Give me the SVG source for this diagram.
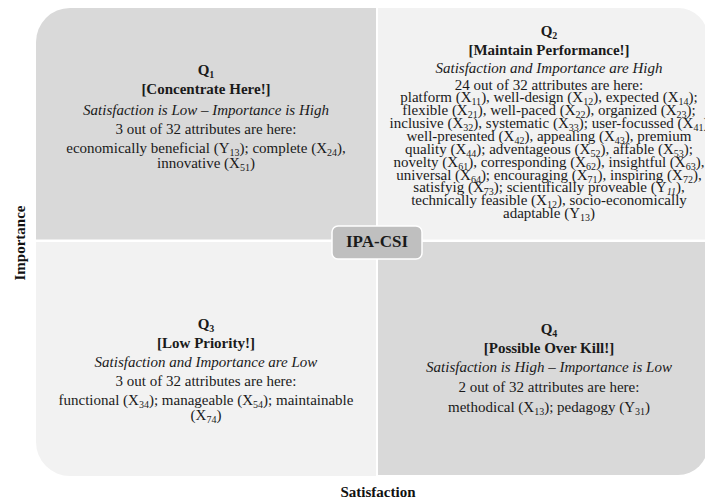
<svg xmlns="http://www.w3.org/2000/svg" width="705" height="502" viewBox="0 0 705 502">
<style>
.t{font-family:"Liberation Serif","Times New Roman",serif;font-size:15px;fill:#1a1a1a;text-anchor:middle}
.b{font-weight:bold}
.i{font-style:italic}
.s{font-size:10px}
.dark{fill:#d9d9d9}
.light{fill:#f2f2f2}
.ax{font-family:"Liberation Serif","Times New Roman",serif;font-size:15px;font-weight:bold;fill:#111;text-anchor:middle}
</style>
<rect width="705" height="502" fill="#ffffff"/>

<g id="q1">
<path class="dark" d="M36,42 A34,34 0 0 1 70,8 L376,8 L376,239.5 L36,239.5 Z"/>
<text class="t b" x="206" y="75">Q<tspan class="s" dy="3">1</tspan></text>
<text class="t b" x="206" y="94">[Concentrate Here!]</text>
<text class="t i" x="206" y="115">Satisfaction is Low – Importance is High</text>
<text class="t" x="206" y="134">3 out of 32 attributes are here:</text>
<text class="t" x="206" y="153">economically beneficial (Y<tspan class="s" dy="3">13</tspan><tspan dy="-3">); complete (X</tspan><tspan class="s" dy="3">24</tspan><tspan dy="-3">),</tspan></text>
<text class="t" x="206" y="168">innovative (X<tspan class="s" dy="3">51</tspan><tspan dy="-3">)</tspan></text>
</g>

<g id="q2">
<path class="light" d="M378,8 L678,8 A30,30 0 0 1 708,38 L708,239.5 L378,239.5 Z"/>
<text class="t b" x="549" y="36">Q<tspan class="s" dy="3">2</tspan></text>
<text class="t b" x="549" y="55">[Maintain Performance!]</text>
<text class="t i" x="549" y="73">Satisfaction and Importance are High</text>
<text class="t" x="549" y="90">24 out of 32 attributes are here:</text>
<text class="t" x="549" y="102">platform (X<tspan class="s" dy="3">11</tspan><tspan dy="-3">), well-design (X</tspan><tspan class="s" dy="3">12</tspan><tspan dy="-3">), expected (X</tspan><tspan class="s" dy="3">14</tspan><tspan dy="-3">);</tspan></text>
<text class="t" x="549" y="115">flexible (X<tspan class="s" dy="3">21</tspan><tspan dy="-3">), well-paced (X</tspan><tspan class="s" dy="3">22</tspan><tspan dy="-3">), organized (X</tspan><tspan class="s" dy="3">23</tspan><tspan dy="-3">);</tspan></text>
<text class="t" x="549" y="128">inclusive (X<tspan class="s" dy="3">32</tspan><tspan dy="-3">), systematic (X</tspan><tspan class="s" dy="3">33</tspan><tspan dy="-3">); user-focussed (X</tspan><tspan class="s" dy="3">41</tspan><tspan dy="-3">)</tspan></text>
<text class="t" x="549" y="141">well-presented (X<tspan class="s" dy="3">42</tspan><tspan dy="-3">), appealing (X</tspan><tspan class="s" dy="3">43</tspan><tspan dy="-3">), premium</tspan></text>
<text class="t" x="549" y="154">quality (X<tspan class="s" dy="3">44</tspan><tspan dy="-3">); adventageous (X</tspan><tspan class="s" dy="3">52</tspan><tspan dy="-3">), affable (X</tspan><tspan class="s" dy="3">53</tspan><tspan dy="-3">);</tspan></text>
<text class="t" x="549" y="167">novelty (X<tspan class="s" dy="3">61</tspan><tspan dy="-3">), corresponding (X</tspan><tspan class="s" dy="3">62</tspan><tspan dy="-3">), insightful (X</tspan><tspan class="s" dy="3">63</tspan><tspan dy="-3">),</tspan></text>
<text class="t" x="549" y="180">universal (X<tspan class="s" dy="3">64</tspan><tspan dy="-3">); encouraging (X</tspan><tspan class="s" dy="3">71</tspan><tspan dy="-3">), inspiring (X</tspan><tspan class="s" dy="3">72</tspan><tspan dy="-3">),</tspan></text>
<text class="t" x="549" y="192">satisfyig (X<tspan class="s" dy="3">73</tspan><tspan dy="-3">); scientifically proveable (Y</tspan><tspan class="s i" dy="3">11</tspan><tspan dy="-3">),</tspan></text>
<text class="t" x="549" y="205">technically feasible (X<tspan class="s" dy="3">12</tspan><tspan dy="-3">), socio-economically</tspan></text>
<text class="t" x="549" y="218">adaptable (Y<tspan class="s" dy="3">13</tspan><tspan dy="-3">)</tspan></text>
</g>

<g id="q3">
<path class="light" d="M36,242 L376,242 L376,476 L70,476 A34,34 0 0 1 36,442 Z"/>
<text class="t b" x="206" y="329">Q<tspan class="s" dy="3">3</tspan></text>
<text class="t b" x="206" y="348">[Low Priority!]</text>
<text class="t i" x="206" y="367">Satisfaction and Importance are Low</text>
<text class="t" x="206" y="386">3 out of 32 attributes are here:</text>
<text class="t" x="206" y="405">functional (X<tspan class="s" dy="3">34</tspan><tspan dy="-3">); manageable (X</tspan><tspan class="s" dy="3">54</tspan><tspan dy="-3">); maintainable</tspan></text>
<text class="t" x="206" y="420">(X<tspan class="s" dy="3">74</tspan><tspan dy="-3">)</tspan></text>
</g>

<g id="q4">
<path class="dark" d="M378,242 L708,242 L708,445 A30,30 0 0 1 678,475 L378,475 Z"/>
<text class="t b" x="549" y="334">Q<tspan class="s" dy="3">4</tspan></text>
<text class="t b" x="549" y="353">[Possible Over Kill!]</text>
<text class="t i" x="549" y="372">Satisfaction is High – Importance is Low</text>
<text class="t" x="549" y="392">2 out of 32 attributes are here:</text>
<text class="t" x="549" y="412">methodical (X<tspan class="s" dy="3">13</tspan><tspan dy="-3">); pedagogy (Y</tspan><tspan class="s" dy="3">31</tspan><tspan dy="-3">)</tspan></text>
</g>

<g id="center">
<rect x="332" y="226" width="90" height="33" rx="6" fill="#bfbfbf" stroke="#ffffff" stroke-width="1.5"/>
<text class="t b" x="377" y="247" style="font-size:17px">IPA-CSI</text>
</g>

<g id="connectors"></g>

<g id="axes">
<text class="ax" transform="translate(25,243) rotate(-90)">Importance</text>
<text class="ax" x="378" y="497">Satisfaction</text>
</g>
</svg>
